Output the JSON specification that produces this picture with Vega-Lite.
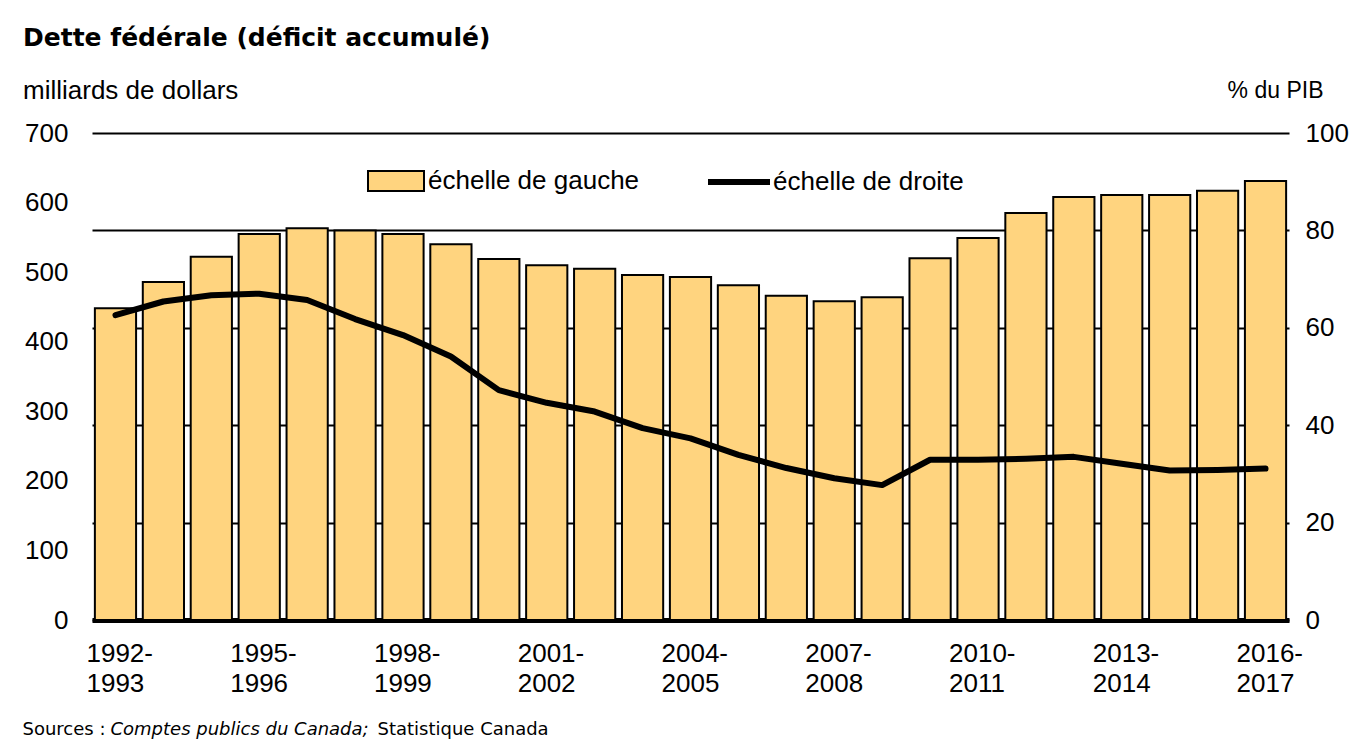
{
  "$schema": "https://vega.github.io/schema/vega-lite/v6.json",
  "width": 1197,
  "height": 487,
  "autosize": {"type": "none"},
  "padding": {"left": 92, "top": 133, "right": 78, "bottom": 120},
  "background": "white",
  "config": {
    "view": {"stroke": null},
    "font": "Liberation Sans",
    "axis": {"labelColor": "black", "titleColor": "black", "labelFont": "Liberation Sans", "titleFont": "Liberation Sans"}
  },
  "title": {
    "text": "Dette fédérale (déficit accumulé)",
    "subtitle": "milliards  de dollars",
    "anchor": "start",
    "frame": "group",
    "font": "DejaVu Sans",
    "fontWeight": "bold",
    "fontSize": 25,
    "color": "black",
    "subtitleFont": "Liberation Sans",
    "subtitleFontSize": 26,
    "subtitleFontWeight": "normal",
    "subtitleColor": "black",
    "subtitlePadding": 27,
    "dx": -69,
    "offset": -25
  },
  "data": {
    "values": [
      {"exercice": "1992-1993", "dette": 448, "pib": 62.6},
      {"exercice": "1993-1994", "dette": 486, "pib": 65.4},
      {"exercice": "1994-1995", "dette": 522, "pib": 66.7},
      {"exercice": "1995-1996", "dette": 555, "pib": 67.0},
      {"exercice": "1996-1997", "dette": 563, "pib": 65.7},
      {"exercice": "1997-1998", "dette": 560, "pib": 61.8},
      {"exercice": "1998-1999", "dette": 555, "pib": 58.5},
      {"exercice": "1999-2000", "dette": 540, "pib": 54.1},
      {"exercice": "2000-2001", "dette": 519, "pib": 47.2},
      {"exercice": "2001-2002", "dette": 510, "pib": 44.6},
      {"exercice": "2002-2003", "dette": 505, "pib": 42.8},
      {"exercice": "2003-2004", "dette": 496, "pib": 39.4},
      {"exercice": "2004-2005", "dette": 493, "pib": 37.3},
      {"exercice": "2005-2006", "dette": 481, "pib": 33.9},
      {"exercice": "2006-2007", "dette": 466, "pib": 31.2},
      {"exercice": "2007-2008", "dette": 458, "pib": 29.1},
      {"exercice": "2008-2009", "dette": 464, "pib": 27.7},
      {"exercice": "2009-2010", "dette": 520, "pib": 32.9},
      {"exercice": "2010-2011", "dette": 549, "pib": 32.9},
      {"exercice": "2011-2012", "dette": 585, "pib": 33.1},
      {"exercice": "2012-2013", "dette": 608, "pib": 33.5},
      {"exercice": "2013-2014", "dette": 611, "pib": 32.1},
      {"exercice": "2014-2015", "dette": 611, "pib": 30.7},
      {"exercice": "2015-2016", "dette": 617, "pib": 30.8},
      {"exercice": "2016-2017", "dette": 631, "pib": 31.1}
    ]
  },
  "layer": [
    {
      "mark": {"type": "bar", "stroke": "black", "strokeWidth": 2},
      "encoding": {
        "x": {
          "field": "exercice",
          "type": "ordinal",
          "sort": null,
          "scale": {"paddingInner": 0.14, "paddingOuter": 0.06},
          "axis": {
            "orient": "bottom",
            "values": ["1992-1993", "1995-1996", "1998-1999", "2001-2002", "2004-2005", "2007-2008", "2010-2011", "2013-2014", "2016-2017"],
            "labelExpr": "[slice(datum.value, 0, 5), slice(datum.value, 5)]",
            "labelAngle": 0,
            "labelAlign": "left",
            "labelOffset": -29,
            "labelFontSize": 26,
            "labelLineHeight": 30,
            "labelPadding": 20,
            "labelOverlap": false,
            "labelBound": false,
            "ticks": false,
            "grid": false,
            "domain": true,
            "domainColor": "black",
            "domainWidth": 5,
            "title": "Sources :",
            "titleFont": "DejaVu Sans",
            "titleFontSize": 18,
            "titleFontWeight": "normal",
            "titleAlign": "left",
            "titleBaseline": "alphabetic",
            "titleAngle": 0,
            "titleX": -70,
            "titleY": 114
          }
        },
        "y": {
          "field": "dette",
          "type": "quantitative",
          "scale": {"domain": [0, 700], "nice": false},
          "axis": {
            "orient": "left",
            "values": [0, 100, 200, 300, 400, 500, 600, 700],
            "grid": false,
            "ticks": false,
            "domain": false,
            "labelFontSize": 26,
            "labelPadding": 24,
            "title": "Statistique Canada",
            "titleFont": "DejaVu Sans",
            "titleFontSize": 18,
            "titleFontWeight": "normal",
            "titleAngle": 0,
            "titleAlign": "left",
            "titleBaseline": "alphabetic",
            "titleX": 285,
            "titleY": 601
          }
        },
        "fill": {
          "datum": "échelle de gauche",
          "scale": {"range": ["#FFD47F"]},
          "legend": {
            "orient": "none",
            "legendX": 275,
            "legendY": 19,
            "title": null,
            "padding": 0,
            "labelFontSize": 26,
            "labelColor": "black",
            "labelLimit": 0,
            "labelOffset": 3,
            "symbolType": "M-1,-0.36L1,-0.36L1,0.36L-1,0.36Z",
            "symbolSize": 3136,
            "symbolStrokeColor": "black",
            "symbolStrokeWidth": 2,
            "symbolOpacity": 1
          }
        }
      }
    },
    {
      "mark": {"type": "line", "strokeWidth": 6, "strokeJoin": "round", "strokeCap": "round"},
      "encoding": {
        "x": {
          "field": "exercice",
          "type": "ordinal",
          "sort": null,
          "axis": {
            "orient": "top",
            "labels": false,
            "ticks": false,
            "domain": false,
            "grid": false,
            "title": "Comptes publics du Canada;",
            "titleFont": "DejaVu Sans",
            "titleFontSize": 18,
            "titleFontWeight": "normal",
            "titleFontStyle": "italic",
            "titleAlign": "left",
            "titleBaseline": "alphabetic",
            "titleAngle": 0,
            "titleX": 18,
            "titleY": 601
          }
        },
        "y": {
          "field": "pib",
          "type": "quantitative",
          "scale": {"domain": [0, 100], "nice": false},
          "axis": {
            "orient": "right",
            "values": [0, 20, 40, 60, 80, 100],
            "grid": true,
            "gridColor": "black",
            "gridWidth": 2,
            "gridOpacity": 1,
            "ticks": false,
            "domain": false,
            "labelFontSize": 26,
            "labelPadding": 16,
            "title": "% du PIB",
            "titleFontSize": 23,
            "titleFontWeight": "normal",
            "titleAngle": 0,
            "titleAlign": "right",
            "titleBaseline": "alphabetic",
            "titleX": 34,
            "titleY": -36
          }
        },
        "stroke": {
          "datum": "échelle de droite",
          "scale": {"range": ["black"]},
          "legend": {
            "orient": "none",
            "legendX": 613,
            "legendY": 15,
            "title": null,
            "padding": 0,
            "labelFontSize": 26,
            "labelColor": "black",
            "labelLimit": 0,
            "labelOffset": 0,
            "symbolType": "stroke",
            "symbolSize": 3844,
            "symbolStrokeWidth": 6,
            "symbolStrokeColor": "black"
          }
        }
      }
    }
  ],
  "resolve": {"scale": {"y": "independent", "fill": "independent", "stroke": "independent"}, "axis": {"x": "independent"}}
}
